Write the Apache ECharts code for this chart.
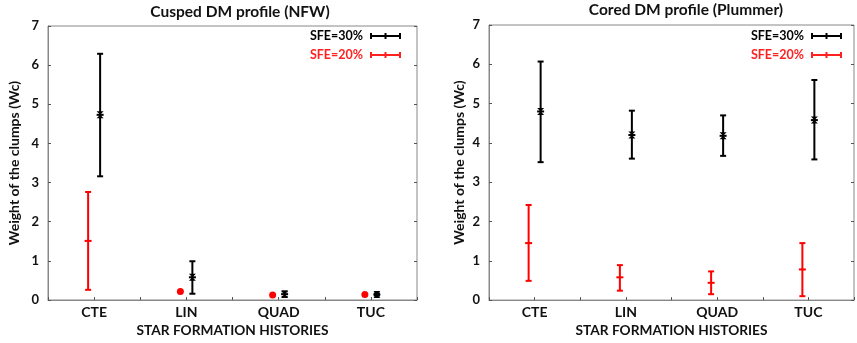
<!DOCTYPE html>
<html><head><meta charset="utf-8">
<script src="https://cdn.jsdelivr.net/npm/echarts@6/dist/echarts.min.js"></script>
<style>html,body{margin:0;padding:0;background:#fff}#c{width:857px;height:343px}</style>
</head><body><div id="c"></div>
<script>
const categories = ['CTE', 'LIN', 'QUAD', 'TUC'];
const yTicks = [0, 1, 2, 3, 4, 5, 6, 7];
// Cusped DM profile (NFW)
const nfw30Mean = [4.73, 0.58, 0.15, 0.14];
const nfw30Low  = [3.16, 0.16, 0.08, 0.11];
const nfw30High = [6.29, 0.99, 0.22, 0.17];
const nfw20Mean = [1.51, 0.22, 0.13, 0.14];
const nfw20Low  = [0.26, 0.22, 0.13, 0.14];
const nfw20High = [2.76, 0.22, 0.13, 0.14];
// Cored DM profile (Plummer)
const plu30Mean = [4.80, 4.20, 4.18, 4.58];
const plu30Low  = [3.51, 3.60, 3.67, 3.58];
const plu30High = [6.07, 4.82, 4.70, 5.60];
const plu20Mean = [1.45, 0.58, 0.44, 0.78];
const plu20Low  = [0.49, 0.24, 0.15, 0.10];
const plu20High = [2.42, 0.89, 0.73, 1.45];

const FONT = 'Lato';
function rows(mean, low, high) {
  return categories.map((c, i) => [i + 1, mean[i], low[i], high[i]]);
}
function makeRender(color, offset, hourglass) {
  return function (params, api) {
    const x = api.value(0), m = api.value(1), lo = api.value(2), hi = api.value(3);
    const pm = api.coord([x, m]), pl = api.coord([x, lo]), ph = api.coord([x, hi]);
    const cx = pm[0] + offset;
    const st = { stroke: color, lineWidth: 2 };
    const ch = [];
    if (hi === lo) {
      ch.push({ type: 'circle', shape: { cx: cx, cy: pm[1], r: 3.5 }, style: { fill: color } });
    } else {
      ch.push({ type: 'line', shape: { x1: cx, y1: pl[1], x2: cx, y2: ph[1] }, style: st });
      ch.push({ type: 'line', shape: { x1: cx - 3, y1: pl[1], x2: cx + 3, y2: pl[1] }, style: st });
      ch.push({ type: 'line', shape: { x1: cx - 3, y1: ph[1], x2: cx + 3, y2: ph[1] }, style: st });
      ch.push({ type: 'line', shape: { x1: cx - 3.5, y1: pm[1], x2: cx + 3.5, y2: pm[1] }, style: st });
      if (hourglass) {
        ch.push({ type: 'polygon', shape: { points: [[cx - 3.5, pm[1] - 3.5], [cx + 3.5, pm[1] - 3.5], [cx - 3.5, pm[1] + 3.5], [cx + 3.5, pm[1] + 3.5]] }, style: { fill: color } });
      }
    }
    return { type: 'group', children: ch };
  };
}
const grids = [
  { left: 48, top: 26, width: 369, height: 276 },
  { left: 489, top: 25, width: 368, height: 276 }
];
const base = { fontFamily: FONT, fontWeight: 'bold', color: '#111' };
const st = (s) => Object.assign({ fontSize: s }, base);
function xAx(i, nameGap) {
  return {
    gridIndex: i, type: 'value', min: 0.5, max: 4.5, interval: 0.5,
    name: 'STAR FORMATION HISTORIES', nameLocation: 'middle', nameGap: nameGap,
    nameTextStyle: st(13.7),
    axisLine: { show: true, lineStyle: { color: '#888', width: 1 } },
    axisTick: { show: true, inside: true, length: 3, lineStyle: { color: '#555' } },
    axisLabel: Object.assign({ margin: 5, showMinLabel: true, showMaxLabel: true,
      formatter: v => (Math.abs(v - Math.round(v)) < 1e-6 ? categories[Math.round(v) - 1] : '') }, st(14)),
    splitLine: { show: false }
  };
}
function yAx(i, nameGap) {
  return {
    gridIndex: i, type: 'value', min: yTicks[0], max: yTicks[yTicks.length - 1], interval: 1,
    name: 'Weight of the clumps (Wc)', nameLocation: 'middle', nameGap: nameGap,
    nameTextStyle: st(14),
    axisLine: { show: true, lineStyle: { color: '#888', width: 1 } },
    axisTick: { show: true, inside: true, length: 3, lineStyle: { color: '#555' } },
    axisLabel: Object.assign({ margin: 9 }, st(13)),
    splitLine: { show: false }
  };
}
function yMirror(i) {
  return {
    gridIndex: i, type: 'value', position: 'right', min: 0, max: 7, interval: 1,
    axisLine: { show: false }, axisLabel: { show: false }, splitLine: { show: false },
    axisTick: { show: true, inside: true, length: 3, lineStyle: { color: '#555' } }
  };
}
function legend(xr, y, text, color) {
  return [
    { type: 'text', right: 857 - xr, top: y - 8, style: { text: text, fill: color, font: 'bold 12.5px Lato' } },
  ];
}
function legendLine(x0, y, color) {
  const s = { stroke: color, lineWidth: 2 };
  return [
    { type: 'line', shape: { x1: x0, y1: y, x2: x0 + 29, y2: y }, style: s },
    { type: 'line', shape: { x1: x0, y1: y - 3, x2: x0, y2: y + 3 }, style: s },
    { type: 'line', shape: { x1: x0 + 29, y1: y - 3, x2: x0 + 29, y2: y + 3 }, style: s },
    { type: 'line', shape: { x1: x0 + 14.5, y1: y - 3, x2: x0 + 14.5, y2: y + 3 }, style: s }
  ];
}
const chart = echarts.init(document.getElementById('c'), null, { renderer: 'canvas' });
chart.setOption({
  backgroundColor: '#fff',
  animation: false,
  title: [
    { text: 'Cusped DM profile (NFW)', left: 235, top: -1, textAlign: 'center', textStyle: st(15.5) },
    { text: 'Cored DM profile (Plummer)', left: 681, top: -3, textAlign: 'center', textStyle: st(15.5) }
  ],
  grid: grids.map(g => Object.assign({ show: true, borderColor: '#888', borderWidth: 1, containLabel: false }, g)),
  xAxis: [xAx(0, 24), xAx(1, 23)],
  yAxis: [yAx(0, 27), yAx(1, 23), yMirror(0), yMirror(1)],
  graphic: [].concat(
    legend(363, 37, 'SFE=30%', '#000'), legendLine(371, 36, '#000'),
    legend(363, 56, 'SFE=20%', '#ff2020'), legendLine(371, 55, '#ff2020'),
    legend(804, 37, 'SFE=30%', '#000'), legendLine(812, 36, '#000'),
    legend(804, 56, 'SFE=20%', '#ff2020'), legendLine(812, 55, '#ff2020')
  ),
  series: [
    { type: 'custom', xAxisIndex: 0, yAxisIndex: 0, renderItem: makeRender('#000', 6, true), data: rows(nfw30Mean, nfw30Low, nfw30High), z: 3 },
    { type: 'custom', xAxisIndex: 0, yAxisIndex: 0, renderItem: makeRender('#ff0000', -6, false), data: rows(nfw20Mean, nfw20Low, nfw20High), z: 3 },
    { type: 'custom', xAxisIndex: 1, yAxisIndex: 1, renderItem: makeRender('#000', 6, true), data: rows(plu30Mean, plu30Low, plu30High), z: 3 },
    { type: 'custom', xAxisIndex: 1, yAxisIndex: 1, renderItem: makeRender('#ff0000', -6, false), data: rows(plu20Mean, plu20Low, plu20High), z: 3 }
  ]
});
</script></body></html>
